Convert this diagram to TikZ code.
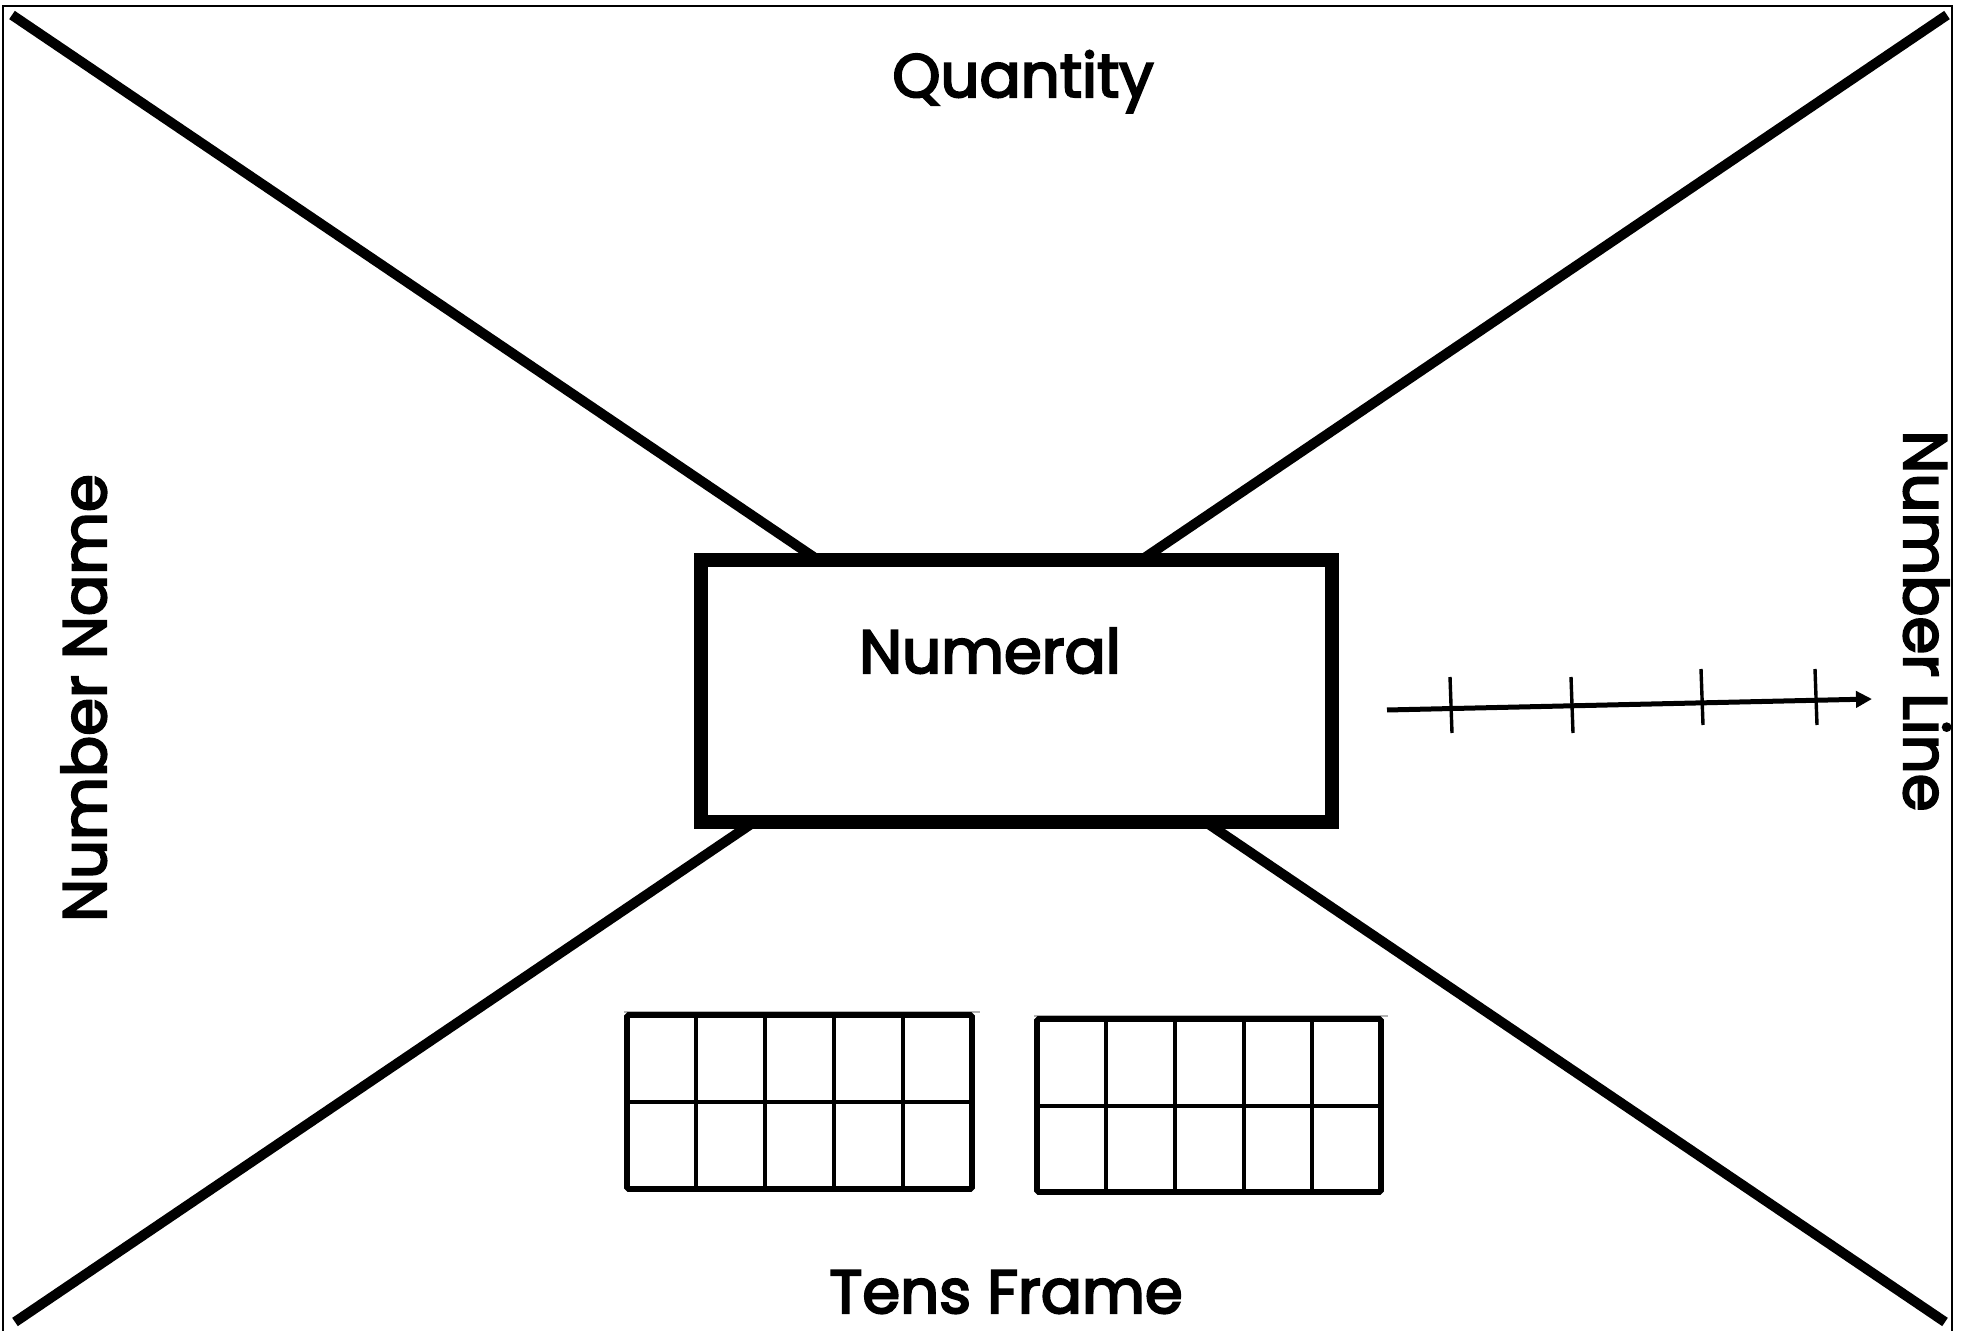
\documentclass[tikz,border=0pt]{standalone}
\usepackage{fontspec}
\setmainfont{Poppins}
\newfontfamily\lblfont{Poppins}[FakeBold=3.5]
\usetikzlibrary{arrows.meta}
\begin{document}
\begin{tikzpicture}[x=0.5pt,y=-0.5pt,
  outline/.style={line width=0.75pt},
  diag/.style={line width=5pt},
  bigbox/.style={draw, line width=7pt, fill=white, minimum width=315.5pt, minimum height=131pt, inner sep=0pt},
  lbl/.style={font=\lblfont\fontsize{30.5}{36}\selectfont, inner sep=0pt, anchor=base},
  nline/.style={line width=2.5pt},
  tick/.style={line width=1.7pt},
  frame/.style={line width=2.8pt, rounded corners=0.8pt},
  cell/.style={line width=2.2pt},
  ghost/.style={line width=0.6pt, black!30}]
\useasboundingbox (0,0) rectangle (1961,1331);
% outer frame
\draw[outline] (3,1335) -- (3,6) -- (1952,6) -- (1952,1335);
% diagonals
\coordinate (tl) at (12,15);
\coordinate (tr) at (1947,15);
\coordinate (bl) at (15,1322);
\coordinate (br) at (1945,1322);
\draw[diag] (tl) -- (br);
\draw[diag] (tr) -- (bl);
% central box
\node[bigbox] (numeral) at (1016,691) {};
\node[lbl] (numtext) at (990,673) {Numeral};
% labels
\node[lbl] (quantity) at (1023,97) {Quantity};
\node[lbl] (tens) at (1006,1313) {Tens Frame};
\node[lbl, rotate=90] (numname) at (106,698) {Number Name};
\node[lbl, rotate=-90] (numline) at (1904,621) {Number Line};
% number line
\coordinate (nls) at (1387,710);
\coordinate (nle) at (1872,699);
\draw[nline, -{Triangle[length=8pt,width=8pt]}] (nls) -- (nle);
\draw[tick] (1450,677) -- (1452,733);
\draw[tick] (1571,677) -- (1573,733);
\draw[tick] (1701,669) -- (1703,725);
\draw[tick] (1815,669) -- (1817,725);
% tens frames
\draw[ghost] (624,1012) -- (980,1012);
\draw[ghost] (1034,1016) -- (1388,1016);
\foreach \x in {696,765,834,903} \draw[cell] (\x,1015) -- (\x,1189);
\draw[cell] (627,1102) -- (972,1102);
\draw[frame] (627,1015) rectangle (972,1189);
\foreach \x in {1106,1175,1244,1312} \draw[cell] (\x,1019) -- (\x,1192);
\draw[cell] (1037,1106) -- (1381,1106);
\draw[frame] (1037,1019) rectangle (1381,1192);
\end{tikzpicture}
\end{document}
